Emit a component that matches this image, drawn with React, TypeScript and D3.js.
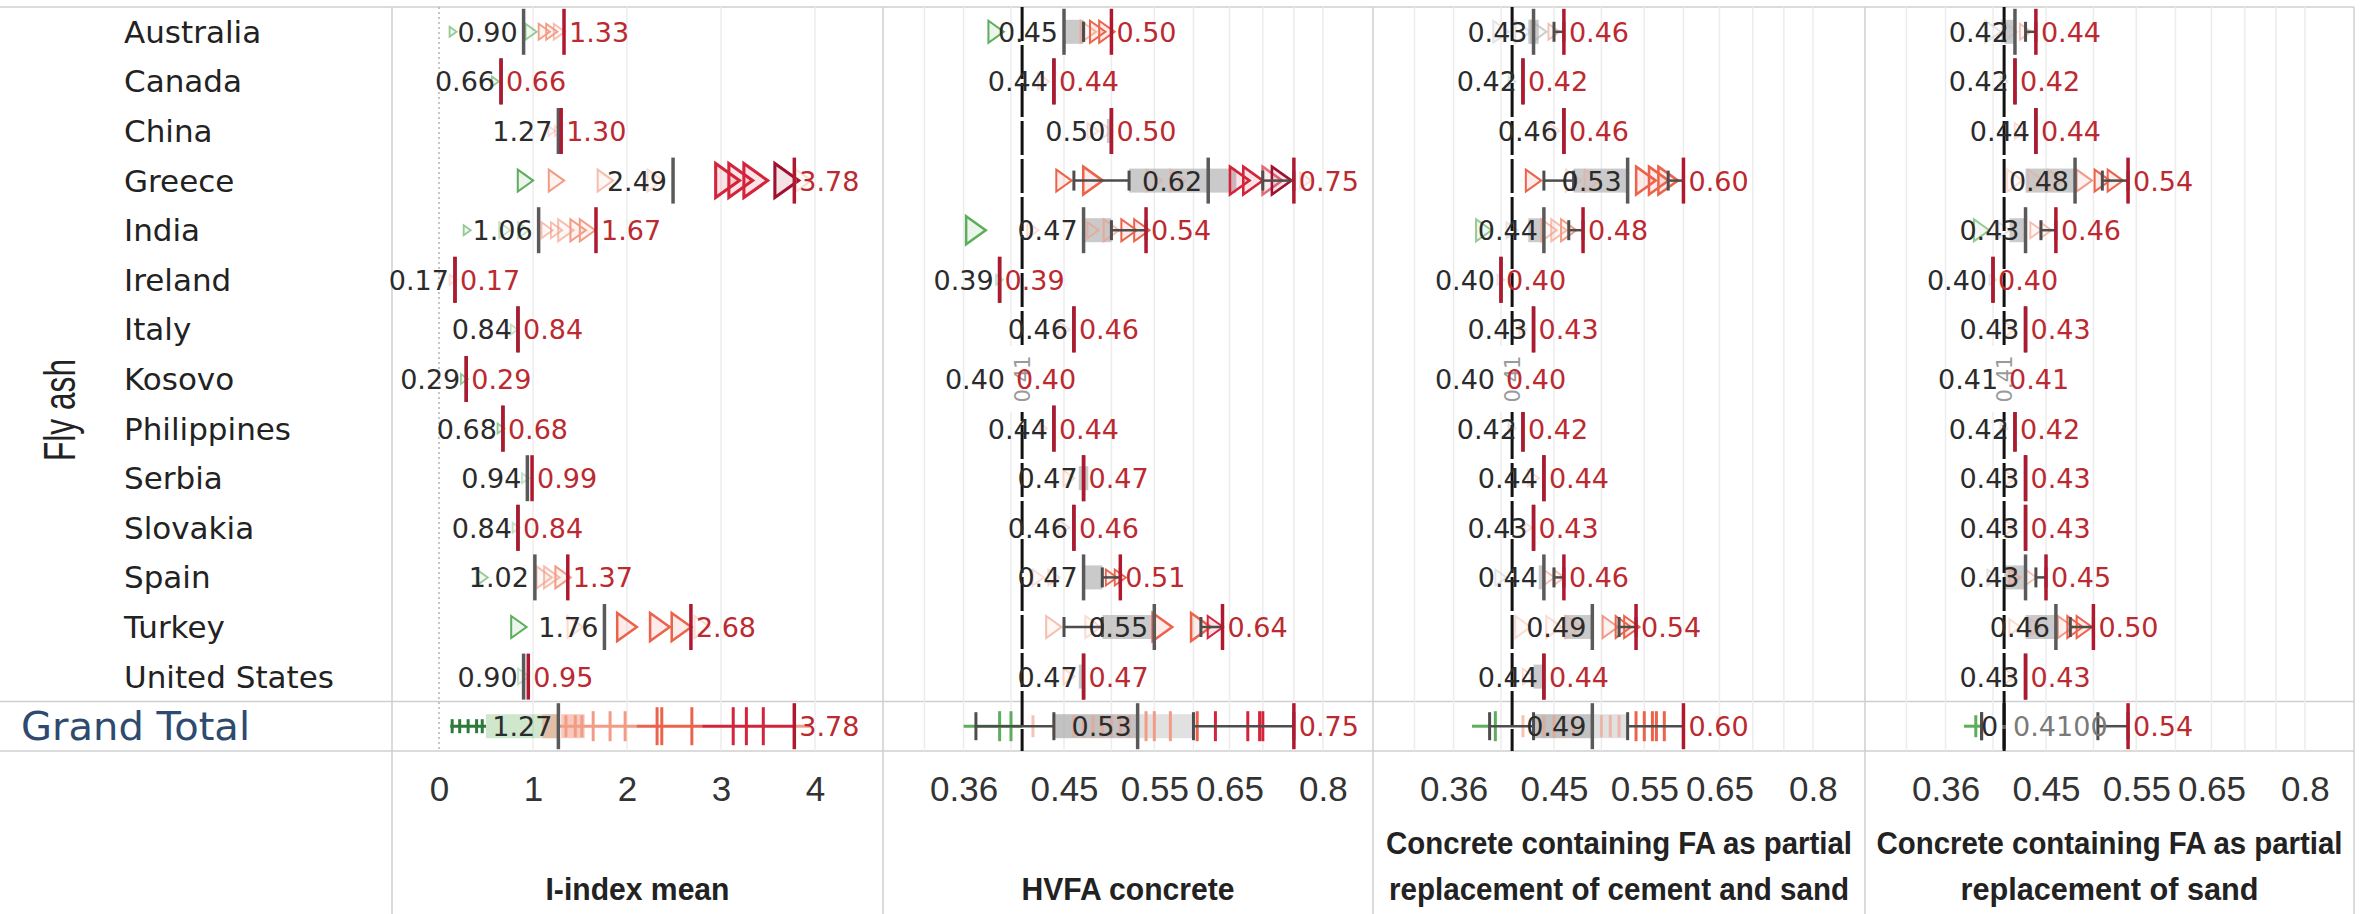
import React, { useEffect, useRef } from 'react';
import * as d3 from 'd3';

// rows
const countries = ["Australia", "Canada", "China", "Greece", "India", "Ireland", "Italy", "Kosovo",
  "Philippines", "Serbia", "Slovakia", "Spain", "Turkey", "United States"];
const totalLabel = "Grand Total";
const groupLabel = "Fly ash";

// columns
const measureTitles = [
  ["I-index mean"],
  ["HVFA concrete"],
  ["Concrete containing FA as partial", "replacement of cement and sand"],
  ["Concrete containing FA as partial", "replacement of sand"],
];
const indexTicks = [0, 1, 2, 3, 4];
const ratioTicks = [0.36, 0.45, 0.55, 0.65, 0.8];
const indexGrid = [1, 2, 3, 4];
const ratioGrid = [0.33, 0.36, 0.40, 0.45, 0.50, 0.55, 0.60, 0.65, 0.70, 0.75, 0.80];
const referenceValue = 0.41;
const referenceText = "0.41";

// min (black label) / max (red label) per country
const indexLow = [0.90, 0.66, 1.27, 2.49, 1.06, 0.17, 0.84, 0.29, 0.68, 0.94, 0.84, 1.02, 1.76, 0.90];
const indexHigh = [1.33, 0.66, 1.30, 3.78, 1.67, 0.17, 0.84, 0.29, 0.68, 0.99, 0.84, 1.37, 2.68, 0.95];
const hvfaLow = [0.45, 0.44, 0.50, 0.62, 0.47, 0.39, 0.46, 0.40, 0.44, 0.47, 0.46, 0.47, 0.55, 0.47];
const hvfaHigh = [0.50, 0.44, 0.50, 0.75, 0.54, 0.39, 0.46, 0.40, 0.44, 0.47, 0.46, 0.51, 0.64, 0.47];
const cementSandLow = [0.43, 0.42, 0.46, 0.53, 0.44, 0.40, 0.43, 0.40, 0.42, 0.44, 0.43, 0.44, 0.49, 0.44];
const cementSandHigh = [0.46, 0.42, 0.46, 0.60, 0.48, 0.40, 0.43, 0.40, 0.42, 0.44, 0.43, 0.46, 0.54, 0.44];
const sandLow = [0.42, 0.42, 0.44, 0.48, 0.43, 0.40, 0.43, 0.41, 0.42, 0.43, 0.43, 0.43, 0.46, 0.43];
const sandHigh = [0.44, 0.42, 0.44, 0.54, 0.46, 0.40, 0.43, 0.41, 0.42, 0.43, 0.43, 0.45, 0.50, 0.43];

// triangles: [value, colour group, size level, strength]
const indexShapes = [
  [[0.15, 0, 1, 2], [0.98, 0, 2, 2], [1.12, 2, 2, 3], [1.2, 2, 2, 3], [1.28, 2, 2, 2]],
  [[0.6, 0, 1, 2]],
  [[1.2, 2, 1, 1], [1.27, 2, 1, 1]],
  [[0.92, 0, 3, 3], [1.25, 2, 3, 3], [1.77, 2, 3, 2], [2.3, 2, 3, 1], [3.07, 4, 5, 3], [3.21, 4, 5, 3], [3.37, 4, 5, 3], [3.7, 5, 5, 3], [3.88, 2, 3, 1]],
  [[0.3, 0, 1, 2], [0.7, 0, 2, 1], [0.9, 0, 2, 1], [1.15, 2, 2, 2], [1.25, 2, 2, 2], [1.35, 2, 3, 2], [1.48, 2, 3, 3], [1.58, 2, 3, 3]],
  [[0.15, 2, 1, 1]],
  [[0.8, 0, 1, 1]],
  [[0.27, 0, 1, 2]],
  [[0.66, 0, 1, 2]],
  [[0.92, 0, 1, 1]],
  [[0.82, 0, 1, 1]],
  [[0.46, 0, 2, 2], [1.12, 2, 3, 2], [1.2, 2, 3, 2], [1.32, 2, 3, 3]],
  [[0.85, 0, 3, 3], [1.45, 2, 3, 1], [2.0, 3, 4, 3], [2.35, 3, 4, 3], [2.58, 3, 4, 3], [2.8, 2, 3, 1]],
  [[0.9, 0, 2, 1]],
];
const hvfaShapes = [
  [[0.387, 0, 3, 3], [0.475, 2, 3, 2], [0.485, 3, 3, 3], [0.495, 3, 3, 3]],
  [[0.43, 2, 2, 1]],
  [[0.48, 2, 2, 1], [0.495, 2, 2, 1]],
  [[0.45, 3, 3, 3], [0.48, 3, 4, 3], [0.55, 2, 3, 1], [0.58, 2, 3, 1], [0.665, 4, 4, 3], [0.685, 4, 4, 3], [0.715, 4, 4, 2], [0.73, 5, 4, 3], [0.77, 2, 2, 1]],
  [[0.37, 0, 4, 3], [0.42, 2, 2, 1], [0.48, 2, 2, 2], [0.50, 2, 3, 2], [0.52, 3, 3, 3], [0.535, 3, 3, 3]],
  [[0.39, 0, 1, 1]],
  [[0.45, 2, 2, 1]],
  [],
  [[0.43, 2, 1, 1]],
  [[0.455, 2, 2, 1]],
  [[0.45, 2, 2, 1]],
  [[0.425, 2, 2, 1], [0.44, 2, 2, 1], [0.50, 3, 2, 3], [0.51, 3, 2, 3]],
  [[0.44, 2, 3, 2], [0.48, 2, 3, 1], [0.56, 3, 4, 3], [0.61, 3, 4, 3], [0.63, 4, 3, 3]],
  [[0.455, 2, 2, 1]],
];
const cementSandShapes = [
  [[0.40, 1, 3, 1], [0.42, 1, 3, 1], [0.435, 1, 3, 2], [0.45, 2, 2, 2]],
  [[0.41, 1, 1, 1]],
  [[0.45, 2, 2, 1]],
  [[0.43, 3, 3, 3], [0.47, 2, 3, 1], [0.49, 2, 3, 1], [0.552, 3, 4, 3], [0.568, 3, 4, 3], [0.58, 3, 4, 3]],
  [[0.385, 0, 3, 2], [0.41, 1, 2, 1], [0.445, 2, 3, 2], [0.455, 2, 3, 2], [0.465, 2, 3, 3]],
  [[0.40, 1, 1, 1]],
  [[0.42, 2, 1, 1]],
  [],
  [[0.41, 1, 1, 1]],
  [[0.43, 2, 2, 1]],
  [[0.425, 2, 1, 1]],
  [[0.40, 1, 2, 1], [0.445, 2, 2, 2], [0.455, 2, 2, 2]],
  [[0.42, 2, 3, 1], [0.45, 2, 3, 1], [0.47, 2, 3, 1], [0.51, 3, 3, 2], [0.525, 3, 3, 3], [0.535, 3, 3, 3]],
  [[0.425, 2, 2, 1]],
];
const sandShapes = [
  [[0.40, 1, 3, 1], [0.415, 1, 3, 1], [0.43, 2, 2, 2]],
  [[0.41, 1, 1, 1]],
  [[0.425, 2, 2, 1]],
  [[0.42, 2, 3, 1], [0.44, 2, 3, 1], [0.46, 2, 3, 1], [0.49, 3, 3, 2], [0.51, 3, 3, 3], [0.525, 3, 3, 3]],
  [[0.39, 0, 3, 2], [0.41, 1, 2, 1], [0.44, 2, 2, 2], [0.45, 2, 2, 2]],
  [[0.40, 1, 1, 1]],
  [[0.415, 2, 2, 1]],
  [],
  [[0.41, 1, 1, 1]],
  [[0.415, 2, 2, 1]],
  [[0.415, 2, 2, 1]],
  [[0.40, 1, 2, 1], [0.42, 2, 2, 2], [0.435, 2, 2, 2]],
  [[0.42, 2, 2, 1], [0.44, 2, 2, 1], [0.47, 3, 3, 2], [0.48, 3, 3, 3], [0.49, 3, 3, 3]],
  [[0.415, 2, 2, 1]],
];

// grey boxes [from, to] and whiskers [[from, to], ...] per country
const hvfaBands = [[0.45, 0.47], null, [0.495, 0.50], [0.52, 0.66], [0.47, 0.50], null, null, null, null, [0.465, 0.475], null, [0.47, 0.49], [0.49, 0.55], [0.465, 0.47]];
const cementSandBands = [[0.425, 0.435], null, null, [0.47, 0.53], [0.425, 0.44], null, null, null, null, null, null, [0.435, 0.44], [0.46, 0.49], [0.43, 0.44]];
const sandBands = [[0.41, 0.42], null, null, [0.43, 0.48], [0.415, 0.43], null, null, null, null, null, null, [0.41, 0.43], [0.43, 0.46], null];
const hvfaWhiskers = [[[0.47, 0.47]], [], [], [[0.46, 0.52], [0.70, 0.75]], [[0.50, 0.54]], [], [], [], [], [], [], [[0.49, 0.51]], [[0.45, 0.49], [0.61, 0.64]], []];
const cementSandWhiskers = [[[0.45, 0.46]], [], [], [[0.44, 0.47], [0.58, 0.60]], [[0.465, 0.48]], [], [], [], [], [], [], [[0.45, 0.46]], [[0.52, 0.54]], []];
const sandWhiskers = [[[0.43, 0.44]], [], [], [[0.51, 0.54]], [[0.445, 0.46]], [], [], [], [], [], [], [[0.44, 0.45]], [[0.475, 0.50]], []];

// Grand Total row
const totalLow = [1.27, 0.53, 0.49, 0.41];
const totalHigh = [3.78, 0.75, 0.60, 0.54];
const totalLowText = ["1.27", "0.53", "0.49", "0"];
const totalNote = ["", "", "", "0.4100"];
// ticks: [value, colour group, height level]
const indexTotalTicks = [[0.14, 6, 1], [0.22, 6, 1], [0.31, 6, 1], [0.40, 6, 1], [0.46, 6, 1], [1.35, 2, 2], [1.45, 2, 2], [1.52, 2, 2],
  [1.64, 2, 3], [1.82, 2, 3], [1.98, 2, 3], [2.32, 3, 4], [2.37, 3, 4], [2.69, 3, 4], [3.13, 4, 4], [3.27, 4, 4], [3.45, 4, 4]];
const hvfaTotalTicks = [[0.39, 0, 3], [0.40, 0, 3], [0.42, 2, 2], [0.44, 2, 2], [0.46, 2, 2], [0.47, 2, 2], [0.48, 2, 2], [0.49, 2, 2],
  [0.50, 2, 2], [0.51, 2, 2], [0.52, 2, 2], [0.54, 2, 3], [0.55, 2, 3], [0.57, 2, 3], [0.605, 3, 3], [0.63, 4, 3], [0.677, 4, 3], [0.695, 4, 3], [0.70, 4, 3]];
const cementSandTotalTicks = [[0.395, 0, 3], [0.42, 2, 2], [0.43, 2, 2], [0.44, 2, 2], [0.45, 2, 2], [0.46, 2, 2], [0.47, 2, 2], [0.50, 2, 2],
  [0.51, 2, 2], [0.52, 2, 2], [0.54, 3, 3], [0.55, 3, 3], [0.56, 3, 3], [0.565, 3, 3], [0.575, 3, 3]];
const sandTotalTicks = [[0.385, 0, 2]];
// connecting lines [from, to, colour group]
const indexTotalLines = [[0.12, 0.5, 6], [1.27, 2.1, 2], [2.1, 2.8, 3], [2.8, 3.78, 4], [3.78, 3.95, 2]];
const hvfaTotalLines = [[0.36, 0.41, 0]];
const cementSandTotalLines = [[0.375, 0.39, 0]];
const sandTotalLines = [[0.375, 0.39, 0]];
// boxes [from, to, colour group]
const indexTotalBands = [[0.5, 1.27, 0], [1.1, 1.27, 2], [1.3, 1.55, 2]];
const hvfaTotalBands = [[0.44, 0.53, 1], [0.53, 0.60, 7]];
const cementSandTotalBands = [[0.43, 0.49, 1], [0.49, 0.53, 7]];
const sandTotalBands = [];
const hvfaTotalWhiskers = [[0.37, 0.44], [0.60, 0.75]];
const cementSandTotalWhiskers = [[0.39, 0.43], [0.53, 0.60]];
const sandTotalWhiskers = [[0.39, 0.39], [0.505, 0.54]];

const groupColors = ["#5cae5a", "#b3b3b3", "#f29c86", "#ec634b", "#d3243b", "#a01030", "#2d7a3a", "#d9d9d9"];
const DATA_FONT = "'DejaVu Sans', Verdana, sans-serif";
const NARROW = "'Liberation Sans Narrow', 'Arial Narrow', 'Liberation Sans', sans-serif";

const App = () => {
  const svgRef = useRef<SVGSVGElement>(null);

  useEffect(() => {
    const svg = d3.select(svgRef.current);
    svg.selectAll("*").remove();

    const panelLeft = [392, 883, 1373, 1865];
    const panelRight = 2354;
    const top = 7, bottom = 751;

    const rows = [...countries, totalLabel];
    const y = d3.scaleBand().domain(rows).range([top, bottom]);
    const yc = (r: string) => (y(r) as number) + y.bandwidth() / 2;

    const xs: any[] = [
      d3.scaleLinear().domain([0, 4]).range([439, 815]),
      ...panelLeft.slice(1).map(l => d3.scaleLog().domain([0.4, 0.8]).range([l + 128, l + 128 + 450 * Math.LN2])),
    ];

    const panels = [
      { low: indexLow, high: indexHigh, shapes: indexShapes, bands: countries.map(() => null), whiskers: countries.map(() => []),
        tTicks: indexTotalTicks, tLines: indexTotalLines, tBands: indexTotalBands, tWhiskers: [] },
      { low: hvfaLow, high: hvfaHigh, shapes: hvfaShapes, bands: hvfaBands, whiskers: hvfaWhiskers,
        tTicks: hvfaTotalTicks, tLines: hvfaTotalLines, tBands: hvfaTotalBands, tWhiskers: hvfaTotalWhiskers },
      { low: cementSandLow, high: cementSandHigh, shapes: cementSandShapes, bands: cementSandBands, whiskers: cementSandWhiskers,
        tTicks: cementSandTotalTicks, tLines: cementSandTotalLines, tBands: cementSandTotalBands, tWhiskers: cementSandTotalWhiskers },
      { low: sandLow, high: sandHigh, shapes: sandShapes, bands: sandBands, whiskers: sandWhiskers,
        tTicks: sandTotalTicks, tLines: sandTotalLines, tBands: sandTotalBands, tWhiskers: sandTotalWhiskers },
    ];

    const sizeScale = d3.scaleLinear().domain([1, 5]).range([10, 34]);
    const tickScale = d3.scaleLinear().domain([1, 5]).range([14, 46]);
    const alpha = d3.scaleOrdinal<number, number>().domain([1, 2, 3]).range([0.35, 0.65, 1]);
    const tri = (h: number) => {
      const w = h * 0.7;
      return `M${-w / 2},${-h / 2}L${w / 2},0L${-w / 2},${h / 2}Z`;
    };

    // frame
    const frame = svg.append("g").attr("stroke", "#cfcfcf").attr("stroke-width", 1.5);
    [top, y(totalLabel) as number, bottom].forEach(v =>
      frame.append("line").attr("x1", 0).attr("x2", panelRight).attr("y1", v).attr("y2", v));
    [...panelLeft, panelRight].forEach(v =>
      frame.append("line").attr("x1", v).attr("x2", v).attr("y1", top).attr("y2", 914));

    // row headers
    svg.append("text")
      .attr("transform", `translate(75, 410) rotate(-90)`)
      .attr("text-anchor", "middle").attr("font-family", NARROW).attr("font-size", 44)
      .attr("textLength", 102).attr("lengthAdjust", "spacingAndGlyphs")
      .attr("fill", "#222").text(groupLabel);
    svg.append("g").selectAll("text").data(countries).enter().append("text")
      .attr("x", 124).attr("y", d => yc(d) + 11)
      .attr("font-family", DATA_FONT).attr("font-size", 31).attr("fill", "#222")
      .text(d => d);
    svg.append("text").attr("x", 21).attr("y", yc(totalLabel) + 14)
      .attr("font-family", DATA_FONT).attr("font-size", 39).attr("fill", "#2e4a6f")
      .attr("textLength", 229).attr("lengthAdjust", "spacingAndGlyphs")
      .text(totalLabel);

    panels.forEach((p, pi) => {
      const x = xs[pi];
      const g = svg.append("g");

      // grid
      (pi === 0 ? indexGrid : ratioGrid).forEach(v =>
        g.append("line").attr("x1", x(v)).attr("x2", x(v)).attr("y1", top).attr("y2", bottom)
          .attr("stroke", "#ececec").attr("stroke-width", 1.5));
      if (pi === 0) {
        g.append("line").attr("x1", x(0)).attr("x2", x(0)).attr("y1", top).attr("y2", bottom)
          .attr("stroke", "#b5b5b5").attr("stroke-width", 1.5).attr("stroke-dasharray", "2,3");
      }

      // country rows
      countries.forEach((c, i) => {
        const cy = yc(c);
        const band = p.bands[i] as number[] | null;
        if (band) {
          g.append("rect").attr("x", x(band[0])).attr("y", cy - 12)
            .attr("width", Math.max(2, x(band[1]) - x(band[0]))).attr("height", 24)
            .attr("fill", "#bdbdbd").attr("opacity", 0.8);
        }
        (p.shapes[i] as number[][]).forEach(([v, grp, sz, st]) => {
          const col = groupColors[grp];
          g.append("path").attr("d", tri(sizeScale(sz)))
            .attr("transform", `translate(${x(v)},${cy})`)
            .attr("fill", col).attr("fill-opacity", 0.12)
            .attr("stroke", col).attr("stroke-width", Math.max(1.8, sizeScale(sz) / 11))
            .attr("opacity", alpha(st));
        });
        (p.whiskers[i] as number[][]).forEach(([a, b]) => {
          g.append("line").attr("x1", x(a)).attr("x2", x(b)).attr("y1", cy).attr("y2", cy)
            .attr("stroke", "#4d4d4d").attr("stroke-width", 2.5);
          [a, b].forEach(v => g.append("line").attr("x1", x(v)).attr("x2", x(v))
            .attr("y1", cy - 10).attr("y2", cy + 10).attr("stroke", "#4d4d4d").attr("stroke-width", 3));
        });
        g.append("line").attr("x1", x(p.low[i])).attr("x2", x(p.low[i])).attr("y1", cy - 23).attr("y2", cy + 23)
          .attr("stroke", "#5a5a5a").attr("stroke-width", 3.5);
        g.append("line").attr("x1", x(p.high[i])).attr("x2", x(p.high[i])).attr("y1", cy - 23).attr("y2", cy + 23)
          .attr("stroke", "#b0182f").attr("stroke-width", 3.5);
      });

      // grand total row
      const ty = yc(totalLabel);
      (p.tBands as number[][]).forEach(([a, b, grp]) => {
        g.append("rect").attr("x", x(a)).attr("y", ty - 12).attr("width", x(b) - x(a)).attr("height", 24)
          .attr("fill", groupColors[grp]).attr("opacity", grp === 0 ? 0.3 : grp === 2 ? 0.55 : 0.8);
      });
      (p.tLines as number[][]).forEach(([a, b, grp]) => {
        g.append("line").attr("x1", x(a)).attr("x2", x(b)).attr("y1", ty).attr("y2", ty)
          .attr("stroke", groupColors[grp]).attr("stroke-width", 3);
      });
      (p.tTicks as number[][]).forEach(([v, grp, lv]) => {
        const h = tickScale(lv);
        g.append("line").attr("x1", x(v)).attr("x2", x(v)).attr("y1", ty - h / 2).attr("y2", ty + h / 2)
          .attr("stroke", groupColors[grp]).attr("stroke-width", 3).attr("opacity", grp === 2 && lv === 2 && pi > 0 ? 0.6 : 1);
      });
      (p.tWhiskers as number[][]).forEach(([a, b]) => {
        g.append("line").attr("x1", x(a)).attr("x2", x(b)).attr("y1", ty).attr("y2", ty)
          .attr("stroke", "#4d4d4d").attr("stroke-width", 2.5);
        [a, b].forEach(v => g.append("line").attr("x1", x(v)).attr("x2", x(v))
          .attr("y1", ty - 14).attr("y2", ty + 14).attr("stroke", "#4d4d4d").attr("stroke-width", 3));
      });
      g.append("line").attr("x1", x(totalLow[pi])).attr("x2", x(totalLow[pi])).attr("y1", ty - 23).attr("y2", ty + 23)
        .attr("stroke", "#5a5a5a").attr("stroke-width", 3.5);
      g.append("line").attr("x1", x(totalHigh[pi])).attr("x2", x(totalHigh[pi])).attr("y1", ty - 23).attr("y2", ty + 23)
        .attr("stroke", "#b0182f").attr("stroke-width", 3.5);

      // reference line with its label
      if (pi > 0) {
        const rx = x(referenceValue);
        const ly = yc("Kosovo");
        g.append("line").attr("x1", rx).attr("x2", rx).attr("y1", top).attr("y2", bottom)
          .attr("stroke", "#111").attr("stroke-width", 3).attr("stroke-dasharray", "34,4");
        g.append("rect").attr("x", rx - 14).attr("y", ly - 33).attr("width", 27).attr("height", 66).attr("fill", "#fff");
        g.append("text").attr("transform", `translate(${rx + 8},${ly}) rotate(-90)`)
          .attr("text-anchor", "middle").attr("font-family", DATA_FONT).attr("font-size", 21)
          .attr("fill", "#9a9a9a").text(referenceText);
      }

      // labels
      const lab = g.append("g").attr("font-family", DATA_FONT).attr("font-size", 27);
      countries.forEach((c, i) => {
        const cy = yc(c) + 10;
        lab.append("text").attr("x", x(p.low[i]) - 6).attr("y", cy).attr("text-anchor", "end")
          .attr("fill", "#2b2b2b").text(p.low[i].toFixed(2));
        lab.append("text").attr("x", x(p.high[i]) + 5).attr("y", cy)
          .attr("fill", "#bb2a30").text(p.high[i].toFixed(2));
      });
      lab.append("text").attr("x", x(totalLow[pi]) - 6).attr("y", ty + 10).attr("text-anchor", "end")
        .attr("fill", "#2b2b2b").text(totalLowText[pi]);
      if (totalNote[pi]) {
        lab.append("text").attr("x", x(totalLow[pi]) + 9).attr("y", ty + 10)
          .attr("fill", "#7a7a7a").text(totalNote[pi]);
      }
      lab.append("text").attr("x", x(totalHigh[pi]) + 5).attr("y", ty + 10)
        .attr("fill", "#bb2a30").text(totalHigh[pi].toFixed(2));

      // axis
      const axis = d3.axisBottom(x).tickValues(pi === 0 ? indexTicks : ratioTicks)
        .tickSize(0).tickPadding(0).tickFormat((d: any) => String(d));
      const ag = svg.append("g").attr("transform", "translate(0,776)").call(axis);
      ag.select(".domain").remove();
      ag.selectAll("text").attr("font-family", NARROW).attr("font-size", 35).attr("fill", "#333");
    });

    // axis titles
    const titleCenter = panelLeft.map((l, i) => (l + (panelLeft[i + 1] ?? panelRight)) / 2);
    const titleWidth = [[184], [213], [466, 460], [466, 298]];
    measureTitles.forEach((lines, pi) => {
      lines.forEach((t, li) => {
        const cy = lines.length === 1 ? 888 : 842 + li * 46;
        svg.append("text").attr("x", titleCenter[pi]).attr("y", cy + 12)
          .attr("text-anchor", "middle").attr("font-family", NARROW).attr("font-weight", "bold")
          .attr("font-size", 32).attr("fill", "#222")
          .attr("textLength", titleWidth[pi][li]).attr("lengthAdjust", "spacingAndGlyphs")
          .text(t);
      });
    });
  }, []);

  return (
    <svg ref={svgRef} width={2379} height={914}
      style={{ position: "absolute", left: 0, top: 0, background: "#fff" }} />
  );
};

export default App;
